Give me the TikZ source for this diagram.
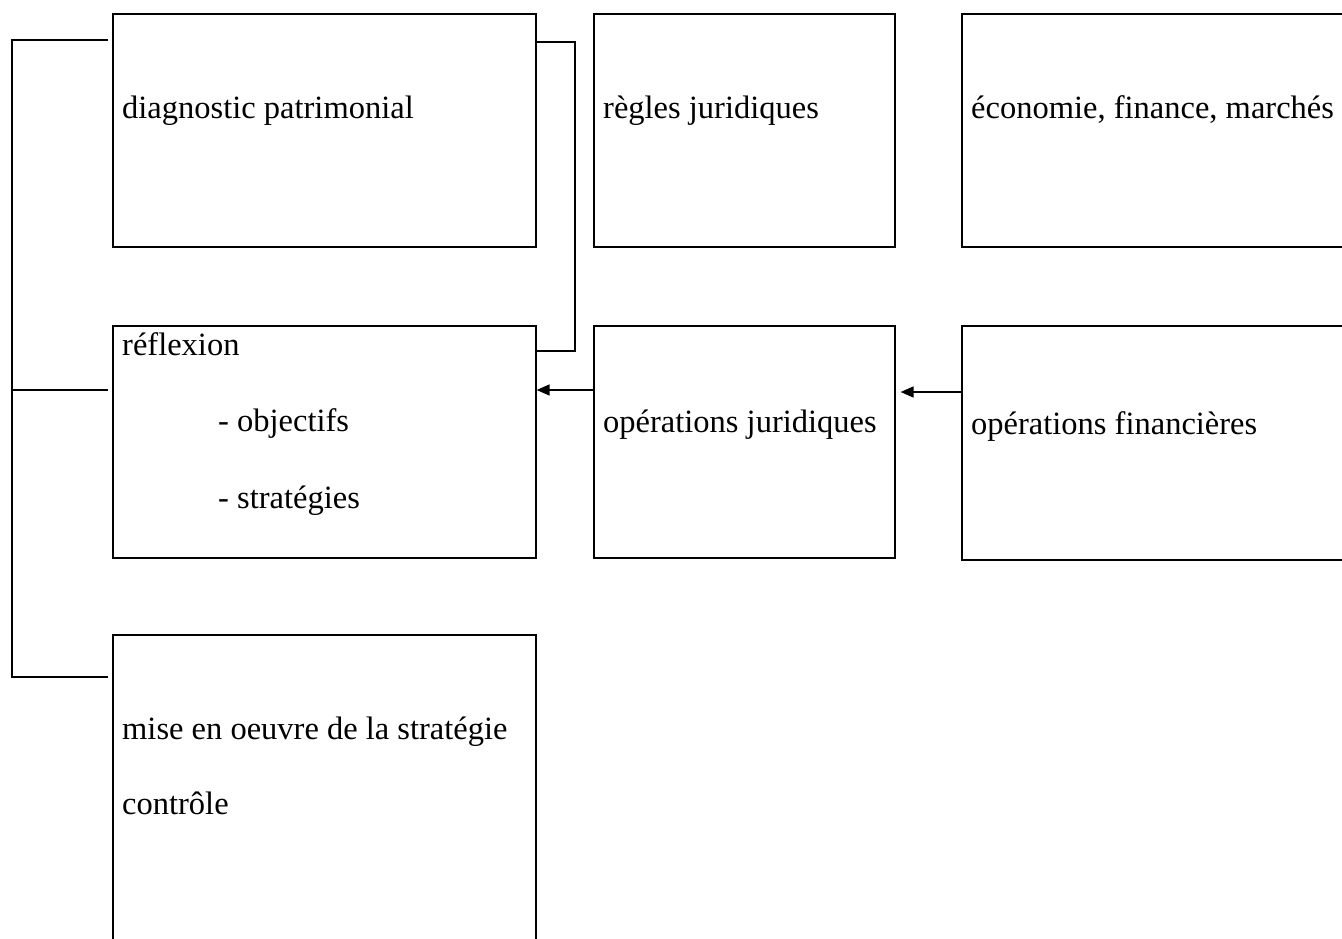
\documentclass[tikz,border=0pt]{standalone}
\usepackage{fontspec}
\setmainfont{Liberation Serif}
\usetikzlibrary{arrows.meta,calc}
\tikzset{
  boxnode/.style={draw, line width=1.6pt, rectangle, anchor=north west, inner sep=0pt},
  lbl/.style={anchor=base west, inner sep=0pt, font=\fontsize{32.5}{39}\selectfont},
  conn/.style={line width=1.8pt},
  arr/.style={line width=1.6pt, -{Triangle[length=13pt,width=11pt]}}
}
\begin{document}
\begin{tikzpicture}[x=1pt,y=-1pt]
\useasboundingbox (0,0) rectangle (1342,939);
\clip (0,0) rectangle (1342,939);
% boxes
\node[boxnode, minimum width=423pt, minimum height=233pt] (A) at (112,13) {};
\node[boxnode, minimum width=301pt, minimum height=233pt] (B) at (593,13) {};
\node[boxnode, minimum width=420pt, minimum height=233pt] (C) at (961,13) {};
\node[boxnode, minimum width=423pt, minimum height=232pt] (D) at (112,325) {};
\node[boxnode, minimum width=301pt, minimum height=232pt] (E) at (593,325) {};
\node[boxnode, minimum width=420pt, minimum height=234pt] (F) at (961,325) {};
\node[boxnode, minimum width=423pt, minimum height=340pt] (G) at (112,634) {};
% texts
\node[lbl] (tA) at (122,119) {diagnostic patrimonial};
\node[lbl] (tB) at (603,119) {règles juridiques};
\node[lbl] (tC) at (971,119) {économie, finance, marchés};
\node[lbl] (tD1) at (122,355) {réflexion};
\node[lbl] (tD2) at (218,431) {- objectifs};
\node[lbl] (tD3) at (218,508) {- stratégies};
\node[lbl] (tE) at (603,432) {opérations juridiques};
\node[lbl] (tF) at (971,434) {opérations financières};
\node[lbl] (tG1) at (122,739) {mise en oeuvre de la stratégie};
\node[lbl] (tG2) at (122,814) {contrôle};
% left bracket
\coordinate (L1) at (108,40);
\coordinate (L2) at (108,390);
\coordinate (L3) at (108,677);
\coordinate (Lv1) at (12,40);
\coordinate (Lv2) at (12,390);
\coordinate (Lv3) at (12,677);
\draw[conn] (L1) -- (Lv1) -- (Lv3) -- (L3);
\draw[conn] (Lv2) -- (L2);
% right bracket between A and D
\coordinate (R1) at (575,42);
\coordinate (R2) at (575,351);
\draw[conn] (A.east |- R1) -- (R1) -- (R2) -- (D.east |- R2);
% arrows
\draw[arr] (E.west |- 0,390) -- (D.east |- 0,390);
\draw[arr, shorten >=5pt] (F.west |- 0,392) -- (E.east |- 0,392);
\end{tikzpicture}
\end{document}
